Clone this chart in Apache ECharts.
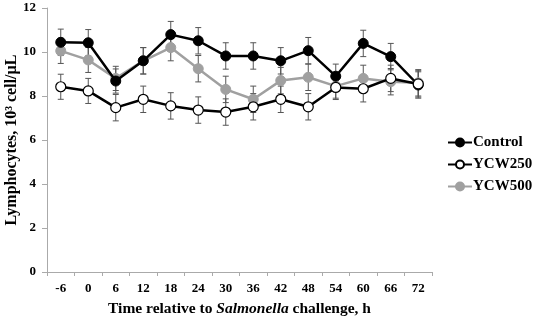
<!DOCTYPE html>
<html>
<head>
<meta charset="utf-8">
<script src="https://cdn.jsdelivr.net/npm/echarts@6/dist/echarts.min.js"></script>
<style>
  html, body { margin: 0; padding: 0; background: #fff; }
  #chart { width: 536px; height: 318px; }
</style>
</head>
<body>
<div id="chart"></div>
<script>
// hours relative to challenge
var hours = ['-6', '0', '6', '12', '18', '24', '30', '36', '42', '48', '54', '60', '66', '72'];

// lymphocytes, 10^3 cell/uL
var control = [10.44, 10.42, 8.68, 9.6, 10.79, 10.51, 9.82, 9.82, 9.6, 10.06, 8.9, 10.39, 9.79, 8.5];
var ycw250  = [8.42, 8.23, 7.47, 7.85, 7.55, 7.36, 7.27, 7.51, 7.85, 7.51, 8.39, 8.33, 8.8, 8.55];
var ycw500  = [10.05, 9.64, 8.8, 9.6, 10.2, 9.24, 8.3, 7.85, 8.7, 8.85, 8.45, 8.8, 8.65, 8.6];

// SEM
var controlErr = [0.6, 0.6, 0.55, 0.6, 0.6, 0.6, 0.6, 0.6, 0.6, 0.6, 0.55, 0.6, 0.6, 0.6];
var ycw250Err  = [0.57, 0.57, 0.6, 0.6, 0.6, 0.6, 0.6, 0.6, 0.6, 0.6, 0.55, 0.6, 0.6, 0.6];
var ycw500Err  = [0.57, 0.57, 0.55, 0.6, 0.6, 0.6, 0.6, 0.6, 0.6, 0.6, 0.55, 0.6, 0.6, 0.6];

var serif = '"Liberation Serif", "Times New Roman", serif';

function errData(vals, errs) {
  return vals.map(function (v, i) { return [i, v - errs[i], v + errs[i]]; });
}

function errSeries(vals, errs) {
  return {
    type: 'custom',
    z: 1,
    silent: true,
    renderItem: function (params, api) {
      var i = api.value(0);
      var lo = api.coord([i, api.value(1)]);
      var hi = api.coord([i, api.value(2)]);
      var w = 3;
      var st = { stroke: '#555', lineWidth: 1 };
      return {
        type: 'group',
        children: [
          { type: 'line', shape: { x1: lo[0], y1: lo[1], x2: hi[0], y2: hi[1] }, style: st },
          { type: 'line', shape: { x1: lo[0] - w, y1: lo[1], x2: lo[0] + w, y2: lo[1] }, style: st },
          { type: 'line', shape: { x1: hi[0] - w, y1: hi[1], x2: hi[0] + w, y2: hi[1] }, style: st }
        ]
      };
    },
    encode: { x: 0, y: [1, 2] },
    data: errData(vals, errs)
  };
}

var chart = echarts.init(document.getElementById('chart'));
chart.setOption({
  animation: false,
  grid: { left: 47, right: 104, top: 8, bottom: 46, containLabel: false, outerBoundsMode: 'none' },
  legend: {
    orient: 'vertical',
    left: 442,
    top: 130,
    itemWidth: 24,
    itemHeight: 10,
    itemGap: 7,
    data: ['Control', 'YCW250', 'YCW500'],
    textStyle: { fontFamily: serif, fontWeight: 'bold', fontSize: 15, color: '#000', padding: [0, 0, 0, -4] }
  },
  xAxis: {
    type: 'category',
    data: hours,
    boundaryGap: true,
    axisLine: { lineStyle: { color: '#aaa', width: 1 } },
    axisTick: { show: true, length: 4, lineStyle: { color: '#aaa' } },
    axisLabel: { fontFamily: serif, fontWeight: 'bold', fontSize: 13, color: '#000', margin: 10 },
    name: '{n|Time relative to }{i|Salmonella}{n| challenge, h}',
    nameLocation: 'middle',
    nameGap: 29,
    nameMoveOverlap: false,
    nameTextStyle: {
      rich: {
        n: { fontFamily: serif, fontWeight: 'bold', fontSize: 15.5, color: '#000' },
        i: { fontFamily: serif, fontWeight: 'bold', fontStyle: 'italic', fontSize: 15.5, color: '#000' }
      }
    }
  },
  yAxis: {
    type: 'value',
    min: 0,
    max: 12,
    interval: 2,
    splitLine: { show: false },
    axisLine: { show: true, lineStyle: { color: '#aaa', width: 1 } },
    axisTick: { show: true, length: 5, lineStyle: { color: '#aaa' } },
    axisLabel: { fontFamily: serif, fontWeight: 'bold', fontSize: 13, color: '#000', margin: 11 },
    name: 'Lymphocytes, 10³ cell/µL',
    nameLocation: 'middle',
    nameGap: 27,
    nameMoveOverlap: false,
    nameTextStyle: { fontFamily: serif, fontWeight: 'bold', fontSize: 16, color: '#000' }
  },
  series: [
    errSeries(control, controlErr),
    errSeries(ycw250, ycw250Err),
    errSeries(ycw500, ycw500Err),
    {
      name: 'Control', type: 'line', data: control, z: 3,
      symbol: 'circle', symbolSize: 10,
      lineStyle: { color: '#000', width: 2.5 },
      itemStyle: { color: '#000', borderColor: '#000', borderWidth: 1 }
    },
    {
      name: 'YCW250', type: 'line', data: ycw250, z: 3,
      symbol: 'circle', symbolSize: 10,
      lineStyle: { color: '#000', width: 2.5 },
      itemStyle: { color: '#fff', borderColor: '#000', borderWidth: 1.2 }
    },
    {
      name: 'YCW500', type: 'line', data: ycw500, z: 2,
      symbol: 'circle', symbolSize: 10,
      lineStyle: { color: '#a0a0a0', width: 2.5 },
      itemStyle: { color: '#a0a0a0', borderColor: '#a0a0a0', borderWidth: 1 }
    }
  ]
});
</script>
</body>
</html>
